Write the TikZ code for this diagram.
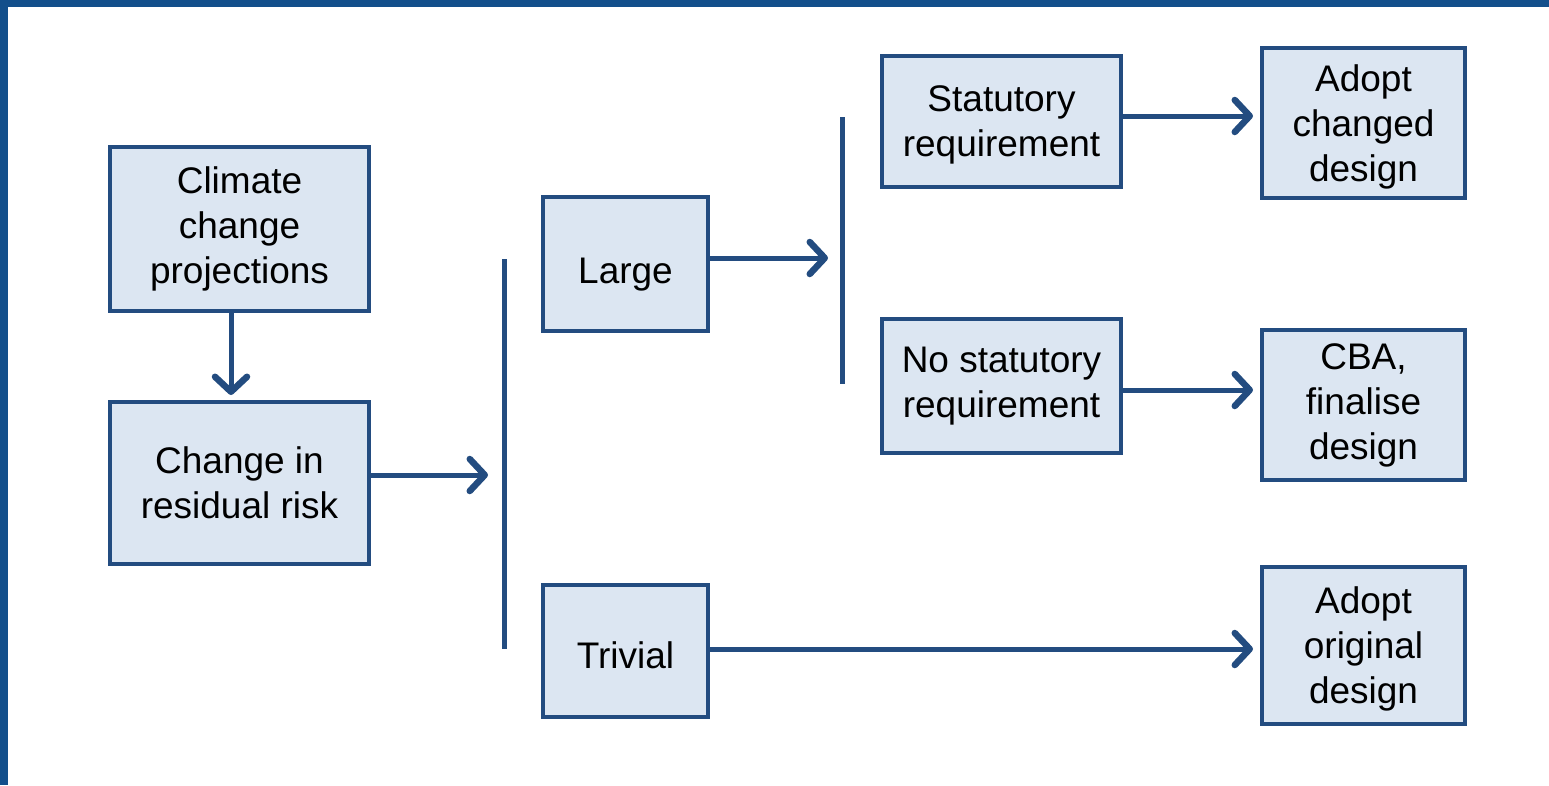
\documentclass[tikz,border=0pt]{standalone}
\usepackage{fontspec}
\setmainfont{Liberation Sans}
\usetikzlibrary{arrows.meta}
\definecolor{frame}{HTML}{134F8B}
\definecolor{boxline}{HTML}{234C80}
\definecolor{boxfill}{HTML}{DCE6F2}
\tikzset{
  box/.style={draw=boxline, fill=boxfill, line width=3.5pt, align=center,
    inner sep=0pt, font=\fontsize{37}{45}\selectfont, text=black},
  arr/.style={draw=boxline, line width=5pt,
    -{Straight Barb[length=15pt,width=32pt,round,line width=6.5pt]}},
  bar/.style={draw=boxline, line width=5pt}
}
\begin{document}
\begin{tikzpicture}[x=1pt,y=-1pt]
\useasboundingbox (0,0) rectangle (1549,785);
\fill[white] (0,0) rectangle (1549,785);
\fill[frame] (0,0) rectangle (1549,7);
\fill[frame] (0,0) rectangle (8,785);

\node[box, minimum width=259pt, minimum height=164pt] (climate) at (239.5,229) {Climate\\change\\projections};
\node[box, minimum width=259pt, minimum height=162pt] (resid) at (239.5,483) {Change in\\residual risk};
\node[box, minimum width=165pt, minimum height=134pt, text height=38.5pt, text depth=0pt] (large) at (625.5,264) {Large};
\node[box, minimum width=165pt, minimum height=132pt, text height=34.5pt, text depth=0pt] (trivial) at (625.5,651) {Trivial};
\node[box, minimum width=239pt, minimum height=131pt, text depth=0pt] (stat) at (1001.5,121.5) {Statutory\\requirement};
\node[box, minimum width=239pt, minimum height=134pt] (nostat) at (1001.5,386) {No statutory\\requirement};
\node[box, minimum width=203pt, minimum height=150pt, text depth=0pt] (adoptc) at (1363.5,123) {Adopt\\changed\\design};
\node[box, minimum width=203pt, minimum height=150pt] (cba) at (1363.5,405) {CBA,\\finalise\\design};
\node[box, minimum width=203pt, minimum height=157pt, text depth=0pt] (adopto) at (1363.5,645.5) {Adopt\\original\\design};

\coordinate (b1t) at (504,259);
\coordinate (b1b) at (504,649);
\coordinate (b2t) at (842,117);
\coordinate (b2b) at (842,384);
\draw[bar] (b1t) -- (b1b);
\draw[bar] (b2t) -- (b2b);

\coordinate (c1) at (231,395);
\coordinate (c2) at (488,475);
\coordinate (c3) at (828,258);
\coordinate (c4) at (1253,116);
\coordinate (c5) at (1253,390);
\coordinate (c6) at (1253,649);
\draw[arr] (climate.south -| c1) -- (c1);
\draw[arr] (resid.east |- c2) -- (c2);
\draw[arr] (large.east |- c3) -- (c3);
\draw[arr] (stat.east |- c4) -- (c4);
\draw[arr] (nostat.east |- c5) -- (c5);
\draw[arr] (trivial.east |- c6) -- (c6);
\end{tikzpicture}
\end{document}
